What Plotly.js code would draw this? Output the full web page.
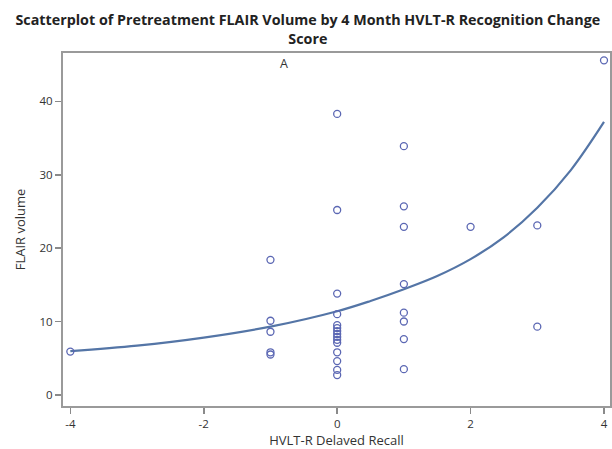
<!DOCTYPE html>
<html>
<head>
<meta charset="utf-8">
<script src="https://cdn.plot.ly/plotly-3.0.1.min.js"></script>
<style>html,body{margin:0;padding:0;background:#fff;}#chart{width:612px;height:449px;}</style>
</head>
<body>
<div id="chart"></div>
<script>
// Observed points: HVLT-R Delayed Recall change (x) vs FLAIR volume (y)
const recallChange = [-4, -1, -1, -1, -1, -1,
  0, 0, 0, 0, 0, 0, 0, 0, 0, 0, 0, 0, 0, 0, 0,
  1, 1, 1, 1, 1, 1, 1, 1,
  2, 3, 3, 4];
const flairVolume = [5.9, 18.4, 10.1, 8.6, 5.8, 5.5,
  38.3, 25.2, 13.8, 11.0, 9.5, 9.1, 8.7, 8.3, 7.9, 7.5, 7.1, 5.8, 4.6, 3.4, 2.7,
  33.9, 25.7, 22.9, 15.1, 11.2, 10.0, 7.6, 3.5,
  22.9, 23.1, 9.3, 45.6];

// Fitted curve
const fitX = [-4, -3, -2, -1, 0, 0.5, 1, 1.5, 2, 2.5, 3, 3.5, 4];
const fitY = [5.95, 6.7, 7.8, 9.3, 11.4, 12.8, 14.4, 16.2, 18.5, 21.5, 25.5, 30.6, 37.2];

const xTicks = [-4, -2, 0, 2, 4];
const yTicks = [0, 10, 20, 30, 40];

const titleText = 'Scatterplot of Pretreatment FLAIR Volume by 4 Month HVLT-R Recognition Change<br>Score';
const xTitle = 'HVLT-R Delaved Recall';
const yTitle = 'FLAIR volume';
const panelLabel = 'A';

const traces = [
  {
    x: fitX, y: fitY, type: 'scatter', mode: 'lines',
    line: {color: '#5475a6', width: 2.2, shape: 'spline', smoothing: 1},
    hoverinfo: 'skip', showlegend: false
  },
  {
    x: recallChange, y: flairVolume, type: 'scatter', mode: 'markers',
    marker: {symbol: 'circle-open', size: 7, color: '#5b67b3', line: {width: 1.3, color: '#5b67b3'}},
    showlegend: false
  }
];

const axisCommon = {
  showline: true, linecolor: '#9a9a9a', linewidth: 2, mirror: true,
  ticks: 'outside', ticklen: 6, tickwidth: 1.5, tickcolor: '#8a8a8a',
  showgrid: false, zeroline: false,
  tickfont: {family: 'Open Sans, Arial, sans-serif', size: 11.5, color: '#333'}
};

const layout = {
  width: 612, height: 449,
  margin: {l: 63, r: 2, t: 53, b: 43},
  paper_bgcolor: '#fff', plot_bgcolor: '#fff',
  title: {
    text: titleText,
    font: {family: 'Open Sans, Arial, sans-serif', size: 14.3, color: '#222', weight: 'bold'},
    x: 0.503, xanchor: 'center', xref: 'container',
    y: 0.944, yanchor: 'middle', yref: 'container'
  },
  xaxis: Object.assign({}, axisCommon, {
    range: [-4.11, 4.09], tickvals: xTicks, ticktext: xTicks.map(String),
    title: {text: xTitle, font: {family: 'Open Sans, Arial, sans-serif', size: 13, color: '#333'}, standoff: 13}
  }),
  yaxis: Object.assign({}, axisCommon, {
    range: [-1.52, 46.6], tickvals: yTicks, ticktext: yTicks.map(String),
    title: {text: yTitle, font: {family: 'Open Sans, Arial, sans-serif', size: 13, color: '#333'}, standoff: 11}
  }),
  annotations: [{
    text: panelLabel, x: -0.8, y: 45.2, xref: 'x', yref: 'y', showarrow: false,
    font: {family: 'Open Sans, Arial, sans-serif', size: 12.5, color: '#333'}
  }]
};

Plotly.newPlot('chart', traces, layout, {displayModeBar: false, staticPlot: true});
</script>
</body>
</html>
